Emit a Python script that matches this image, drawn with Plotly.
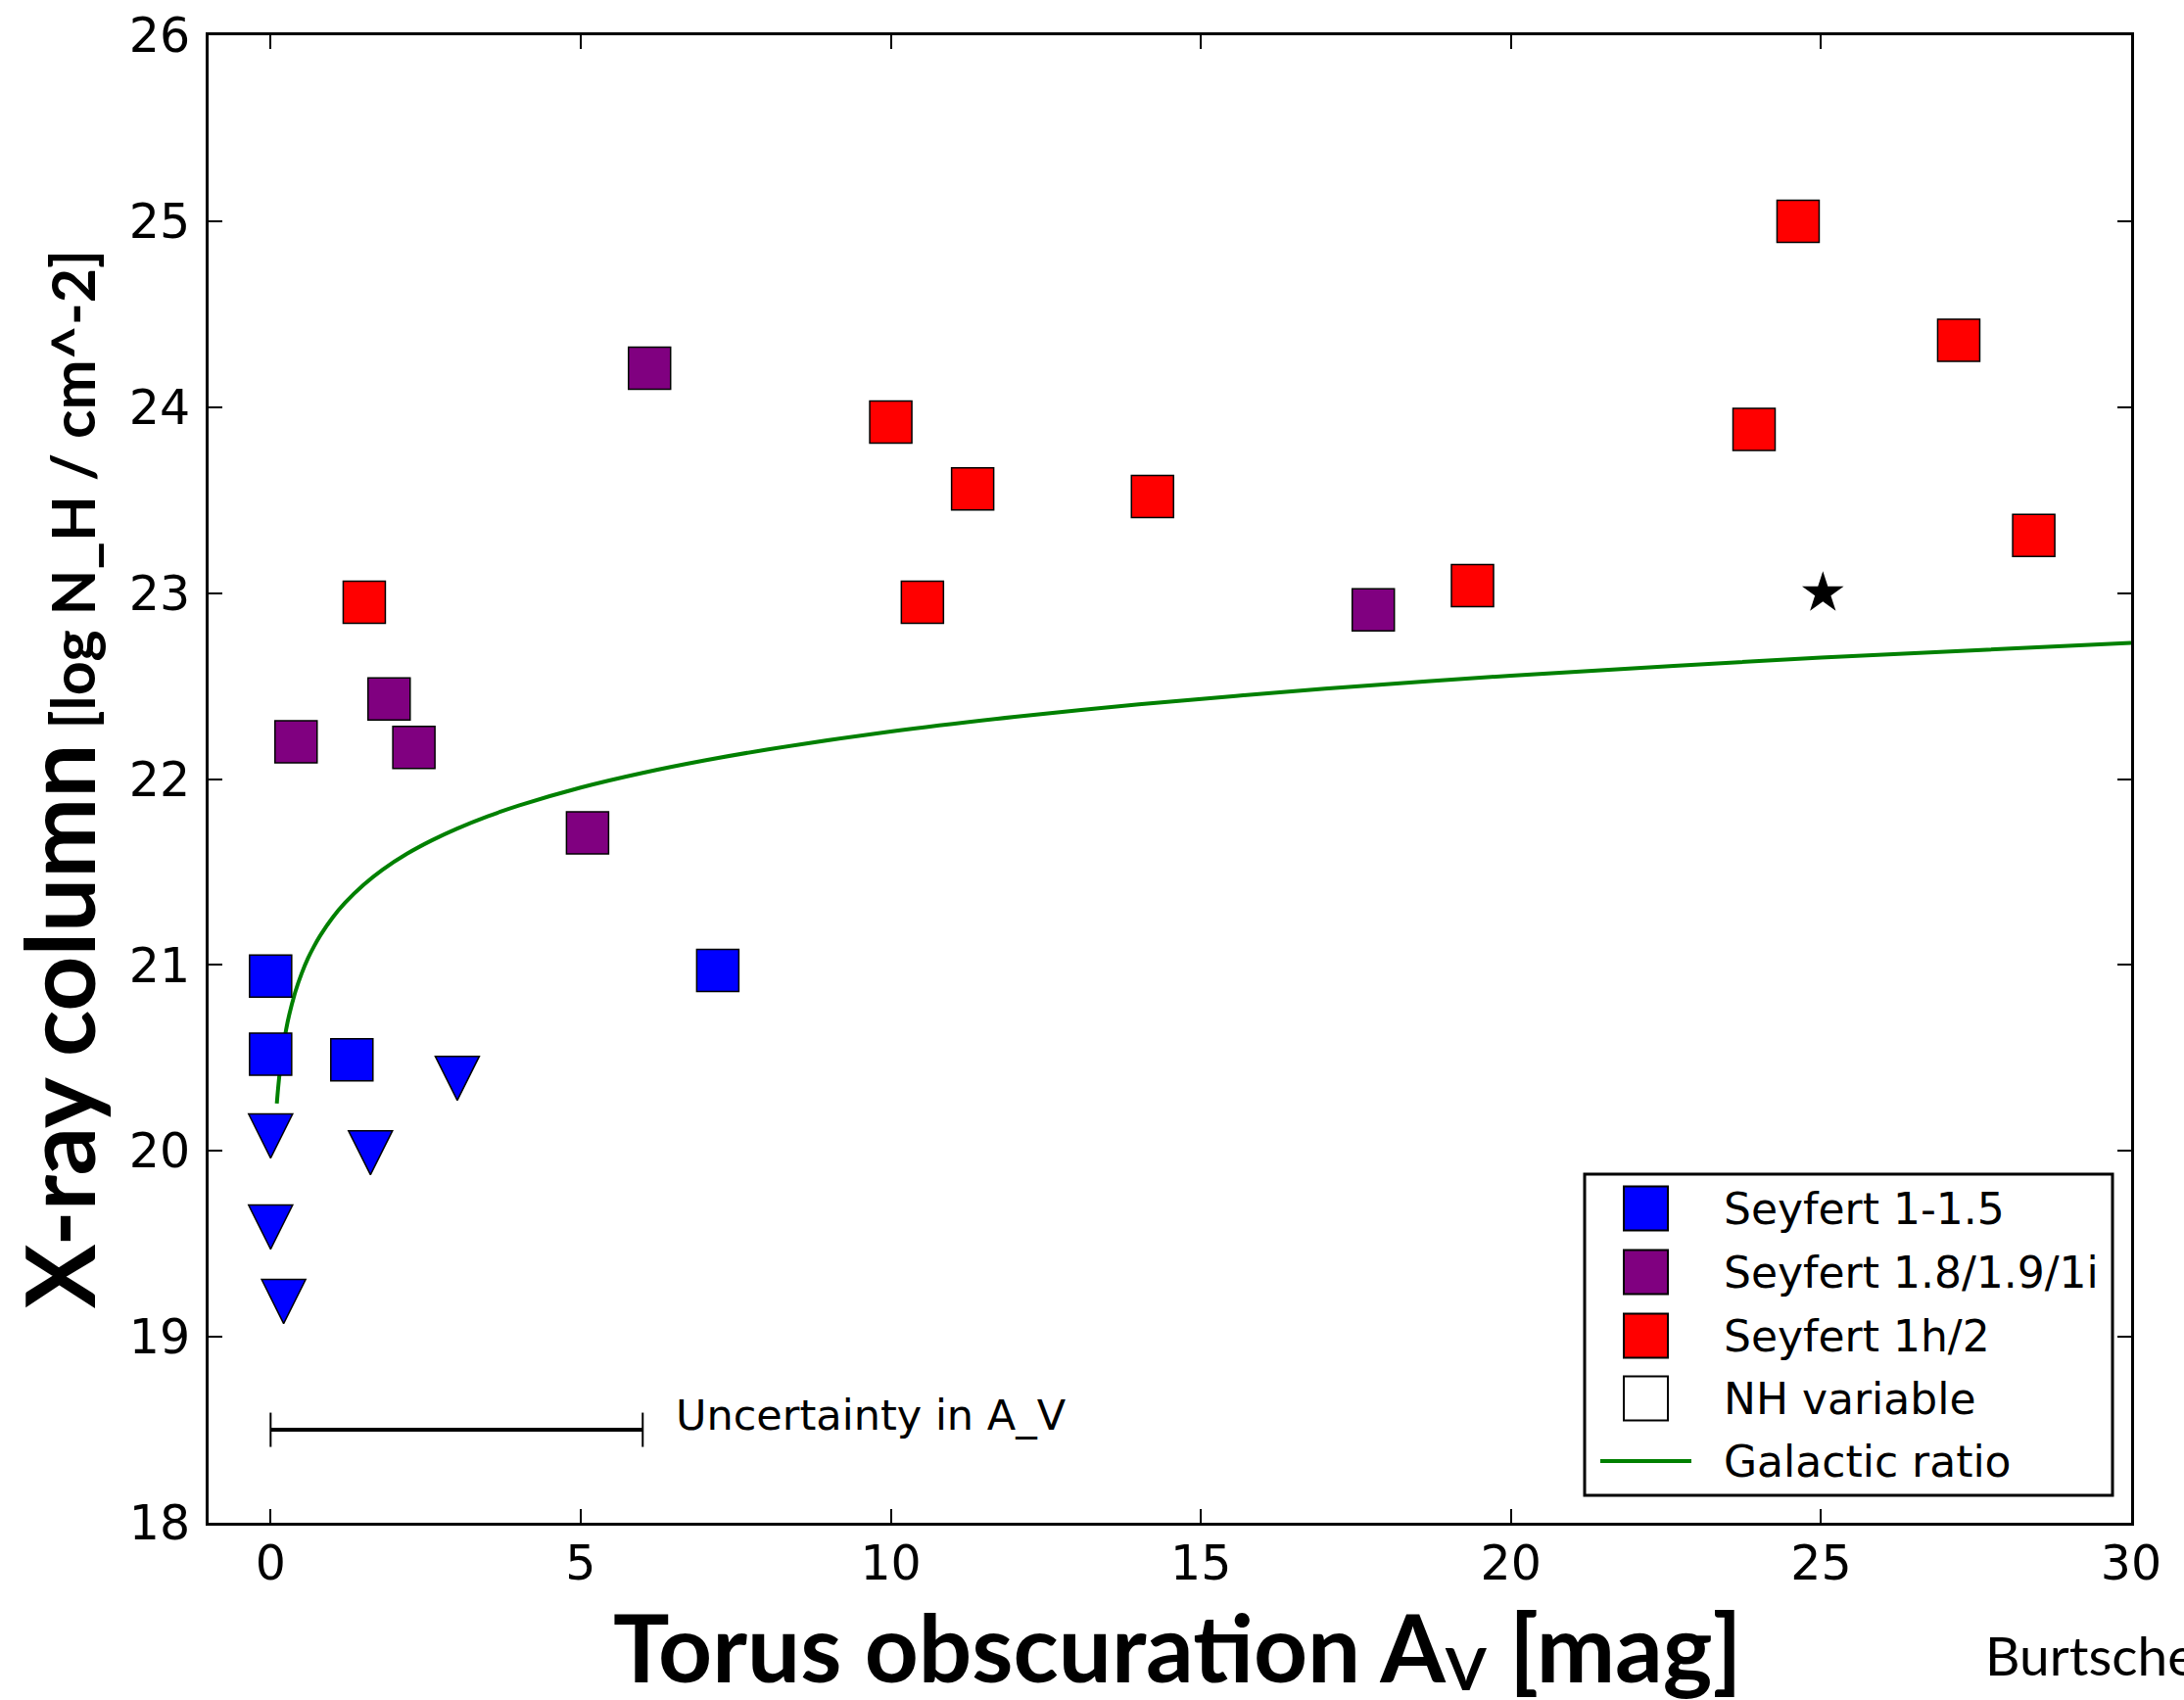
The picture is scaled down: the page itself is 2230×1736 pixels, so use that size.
import plotly.graph_objects as go

# ---------------- data ----------------
sy1_x = [0.0, 0.0, 1.31, 7.21]
sy1_y = [20.94, 20.52, 20.49, 20.97]

sy1_lim_x = [0.0, 0.0, 0.21, 1.61, 3.01]
sy1_lim_y = [20.08, 19.59, 19.19, 19.99, 20.39]

sy18_x = [0.41, 1.91, 2.31, 5.11, 6.11, 17.78]
sy18_y = [22.20, 22.43, 22.17, 21.71, 24.21, 22.91]

sy2_x = [1.51, 10.00, 10.51, 11.32, 14.22, 19.38, 23.92, 24.63, 27.22, 28.43]
sy2_y = [22.95, 23.92, 22.95, 23.56, 23.52, 23.04, 23.88, 25.00, 24.36, 23.31]

star_x = [25.03]
star_y = [23.00]

gal_x = [0.1, 0.12, 0.15, 0.2, 0.25, 0.3, 0.4, 0.5, 0.6, 0.7, 0.8, 1.0, 1.2, 1.5, 1.8, 2.2, 2.6,
         3.0, 3.5, 4, 5, 6, 7, 8, 10, 12, 14, 17, 20, 25, 30]
gal_y = [20.255, 20.334, 20.431, 20.556, 20.653, 20.732, 20.857, 20.954, 21.034, 21.100, 21.158,
         21.255, 21.334, 21.431, 21.511, 21.598, 21.670, 21.732, 21.799, 21.857, 21.954, 22.033,
         22.100, 22.158, 22.255, 22.334, 22.401, 22.486, 22.556, 22.653, 22.732]

unc_x = [0.0, 6.0]
unc_y = [18.5, 18.5]

x_ticks = [0, 5, 10, 15, 20, 25, 30]
y_ticks = [18, 19, 20, 21, 22, 23, 24, 25, 26]

legend_labels = ["Seyfert 1-1.5", "Seyfert 1.8/1.9/1i", "Seyfert 1h/2", "NH variable", "Galactic ratio"]
legend_colors = ["#0000ff", "#800080", "#ff0000", "#ffffff", "#008000"]

# ---------------- layout geometry ----------------
W, H = 2230, 1736
L, R, T, B = 213, 2176, 36, 1555   # plot-area pixel edges


def px(x):
    return (x - L) / (R - L)


def py(y):
    return (B - y) / (B - T)


BLUE, PURPLE, RED = "#0000ff", "#800080", "#ff0000"
edge = dict(color="black", width=1.5)

fig = go.Figure()

fig.add_trace(go.Scatter(x=gal_x, y=gal_y, mode="lines",
                         line=dict(color="#008000", width=4, shape="spline", smoothing=0.8),
                         showlegend=False, hoverinfo="skip"))

fig.add_trace(go.Scatter(x=sy1_x, y=sy1_y, mode="markers",
                         marker=dict(symbol="square", size=43, color=BLUE, line=edge), showlegend=False))
fig.add_trace(go.Scatter(x=sy1_lim_x, y=sy1_lim_y, mode="markers",
                         marker=dict(symbol="arrow-down", size=45, standoff=22.5, color=BLUE, line=edge),
                         showlegend=False))
fig.add_trace(go.Scatter(x=sy18_x, y=sy18_y, mode="markers",
                         marker=dict(symbol="square", size=43, color=PURPLE, line=edge), showlegend=False))
fig.add_trace(go.Scatter(x=sy2_x, y=sy2_y, mode="markers",
                         marker=dict(symbol="square", size=43, color=RED, line=edge), showlegend=False))
fig.add_trace(go.Scatter(x=star_x, y=star_y, mode="markers",
                         marker=dict(symbol="star", size=32, color="black", line=dict(width=0)), showlegend=False))

# uncertainty bar
fig.add_trace(go.Scatter(x=unc_x, y=unc_y, mode="lines", line=dict(color="black", width=4),
                         showlegend=False, hoverinfo="skip"))
fig.add_trace(go.Scatter(x=unc_x, y=unc_y, mode="markers",
                         marker=dict(symbol="line-ns", size=25, line=dict(color="black", width=2)),
                         showlegend=False, hoverinfo="skip"))

annotations = [
    dict(x=6.5, y=18.58, xref="x", yref="y", text="Uncertainty in A_V", showarrow=False,
         xanchor="left", yanchor="middle", font=dict(family="DejaVu Sans", size=43, color="black")),
    dict(x=px(2025), y=py(1690), xref="paper", yref="paper", text="Burtscher et al.", showarrow=False,
         xanchor="left", yanchor="middle", font=dict(family="Lato", size=55, color="black")),
    # x-axis title
    dict(x=px(1202), y=py(1681), xref="paper", yref="paper",
         text="Torus obscuration A<span style='font-size:60px; baseline-shift:-8px'>V</span> [mag]",
         showarrow=False, xanchor="center", yanchor="middle",
         font=dict(family="Lato", size=96, weight="bold", color="black")),
]

shapes = []
# custom legend box
shapes.append(dict(type="rect", xref="paper", yref="paper", x0=px(1618), x1=px(2157), y0=py(1527), y1=py(1199),
                   line=dict(color="black", width=3), fillcolor="white", layer="above"))
row_y = [1234, 1299, 1364, 1428, 1492]
for i, (lab, col) in enumerate(zip(legend_labels, legend_colors)):
    yy = row_y[i]
    if i < 4:
        shapes.append(dict(type="rect", xref="paper", yref="paper", x0=px(1658), x1=px(1703),
                           y0=py(yy + 22.5), y1=py(yy - 22.5), fillcolor=col,
                           line=dict(color="black", width=2), layer="above"))
    else:
        shapes.append(dict(type="line", xref="paper", yref="paper", x0=px(1634), x1=px(1727),
                           y0=py(yy), y1=py(yy), line=dict(color=col, width=4), layer="above"))
    annotations.append(dict(x=px(1758), y=py(yy), xref="paper", yref="paper", text=lab, showarrow=False,
                            xanchor="left", yanchor="middle",
                            font=dict(family="DejaVu Sans", size=44, color="black")))

axis_common = dict(showline=True, linecolor="black", linewidth=3, mirror="ticks", ticks="inside",
                   ticklen=14, tickwidth=2, tickcolor="black", showgrid=False, zeroline=False,
                   tickfont=dict(family="DejaVu Sans", size=49, color="black"))

fig.update_layout(
    width=W, height=H,
    margin=dict(l=L, r=W - R, t=T, b=H - B, autoexpand=False),
    paper_bgcolor="white", plot_bgcolor="white",
    showlegend=False,
    xaxis=dict(range=[-1, 30], tickvals=x_ticks, ticktext=[str(v) for v in x_ticks],
               ticklabelstandoff=-4, **axis_common),
    yaxis=dict(range=[18, 26], tickvals=y_ticks, ticktext=[str(v) for v in y_ticks],
               ticklabelstandoff=6,
               title=dict(text="X-ray column<span style='font-size:61px'> [log N_H / cm^-2]</span>", standoff=22,
                          font=dict(family="Lato", size=98, weight="bold", color="black")),
               **axis_common),
    annotations=annotations,
    shapes=shapes,
)

fig.write_html("out.html")
